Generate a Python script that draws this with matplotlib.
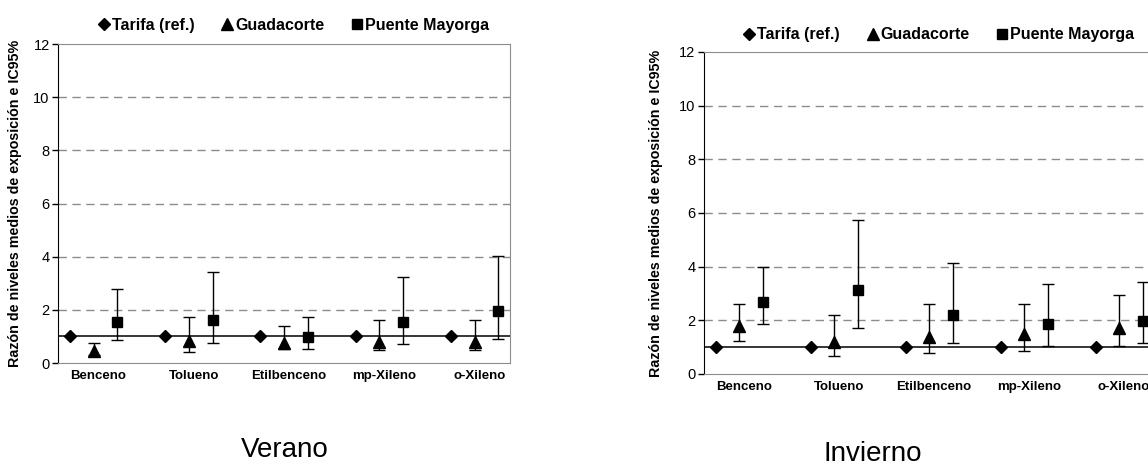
import matplotlib
matplotlib.use("Agg")
import matplotlib.pyplot as plt
from matplotlib.lines import Line2D

plt.rcParams['font.family'] = ['Liberation Sans', 'DejaVu Sans']

compuestos = ["Benceno", "Tolueno", "Etilbenceno", "mp-Xileno", "o-Xileno"]
estaciones = ["Tarifa (ref.)", "Guadacorte", "Puente Mayorga"]

# Verano
ver_tarifa = [1, 1, 1, 1, 1]
ver_guad = [0.47, 0.84, 0.76, 0.80, 0.80]
ver_guad_lo = [0.30, 0.43, 0.53, 0.49, 0.49]
ver_guad_hi = [0.76, 1.72, 1.39, 1.63, 1.63]
ver_pm = [1.55, 1.62, 0.99, 1.55, 1.95]
ver_pm_lo = [0.86, 0.76, 0.53, 0.71, 0.91]
ver_pm_hi = [2.79, 3.42, 1.72, 3.24, 4.02]

# Invierno
inv_tarifa = [1, 1, 1, 1, 1]
inv_guad = [1.80, 1.21, 1.37, 1.48, 1.73]
inv_guad_lo = [1.24, 0.67, 0.77, 0.86, 1.04]
inv_guad_hi = [2.62, 2.21, 2.59, 2.59, 2.96]
inv_pm = [2.70, 3.13, 2.21, 1.88, 1.99]
inv_pm_lo = [1.87, 1.72, 1.14, 1.04, 1.14]
inv_pm_hi = [3.97, 5.75, 4.15, 3.35, 3.41]

ylabel = "Razón de niveles medios de exposición e IC95%"


def panel(ax, tarifa, guad, g_lo, g_hi, pm, p_lo, p_hi, leg_y, lab_x):
    x0 = [1 + 4 * i for i in range(len(compuestos))]
    x1 = [x + 1 for x in x0]
    x2 = [x + 2 for x in x0]

    ax.set_xlim(0.5, 19.5)
    ax.set_ylim(0, 12)
    for v in range(2, 12, 2):
        ax.axhline(v, color="#8c8c8c", lw=1, ls=(0, (6, 4)), zorder=0)
    ax.axhline(1, color="black", lw=1.1, zorder=1)

    ax.plot(x0, tarifa, "D", color="black", ms=6, ls="none", zorder=3)
    ax.errorbar(x1, guad, yerr=[[g - l for g, l in zip(guad, g_lo)],
                                [h - g for g, h in zip(guad, g_hi)]],
                fmt="^", color="black", ms=8, ecolor="black", elinewidth=1,
                capsize=4, capthick=1, zorder=3)
    ax.errorbar(x2, pm, yerr=[[p - l for p, l in zip(pm, p_lo)],
                              [h - p for p, h in zip(pm, p_hi)]],
                fmt="s", color="black", ms=7, ecolor="black", elinewidth=1,
                capsize=4, capthick=1, zorder=3)

    ax.set_yticks(range(0, 13, 2))
    ax.tick_params(axis="y", labelsize=10.5, length=4, width=1, pad=2)
    ax.set_xticks([x + 1.2 for x in x0])
    ax.set_xticklabels(compuestos, fontsize=9.5, fontweight="bold")
    ax.tick_params(axis="x", length=0, pad=5)
    for s in ["top", "right", "bottom"]:
        ax.spines[s].set_color("#8c8c8c")
    ax.spines["left"].set_color("black")
    ax.set_ylabel(ylabel, fontsize=10.3, fontweight="bold")
    ax.yaxis.set_label_coords(lab_x, 0.5)

    handles = [Line2D([], [], marker=m, color="black", ls="none", ms=ms)
               for m, ms in [("D", 6.5), ("^", 8.5), ("s", 7.5)]]
    ax.legend(handles, estaciones, loc="lower center", bbox_to_anchor=(0.52, leg_y),
              ncol=3, frameon=False, handletextpad=0.05, columnspacing=1.6,
              handlelength=0.9, prop={"weight": "bold", "size": 11.5})


fig = plt.figure(figsize=(11.48, 4.69), dpi=100)
ax1 = fig.add_axes([0.0505, 0.226, 0.394, 0.680])
ax2 = fig.add_axes([0.613, 0.2026, 0.393, 0.6866])

panel(ax1, ver_tarifa, ver_guad, ver_guad_lo, ver_guad_hi, ver_pm, ver_pm_lo, ver_pm_hi, 0.99, -0.08)
panel(ax2, inv_tarifa, inv_guad, inv_guad_lo, inv_guad_hi, inv_pm, inv_pm_lo, inv_pm_hi, 0.985, -0.09)

fig.text(0.248, 0.025, "Verano", fontsize=20, ha="center", va="baseline")
fig.text(0.760, 0.004, "Invierno", fontsize=20, ha="center", va="bottom")

fig.savefig("out.png", dpi=100)
